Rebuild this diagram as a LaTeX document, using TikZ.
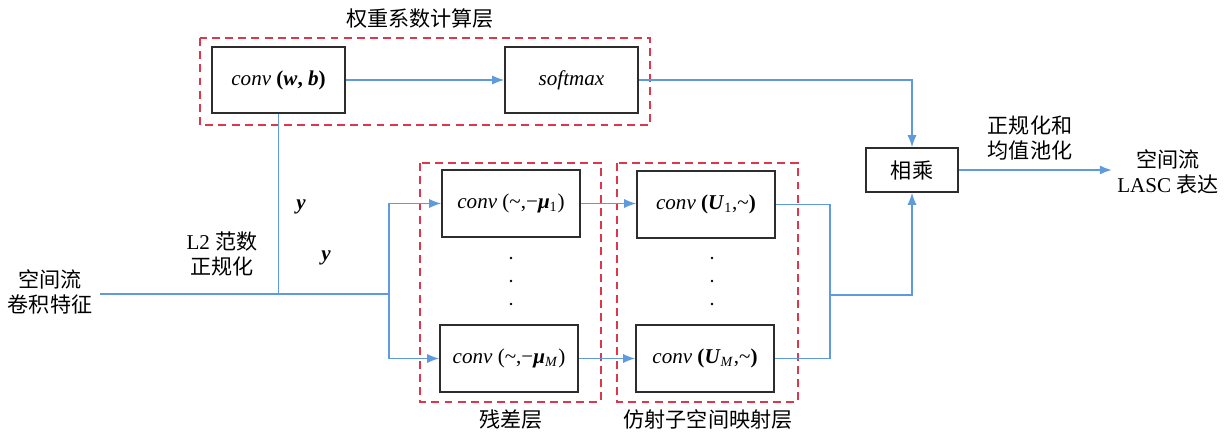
\documentclass[tikz,border=0pt]{standalone}
\usepackage{fontspec}
\setmainfont{Liberation Serif}
\newfontfamily\cjk{Noto Sans CJK SC}
\usetikzlibrary{arrows.meta}

\definecolor{flowblue}{RGB}{95,155,220}
\definecolor{layerred}{RGB}{220,55,75}
\definecolor{boxgray}{RGB}{45,45,45}

\newcommand{\bfit}[1]{\textbf{\textit{#1}}}
\newcommand{\conv}{\textit{conv}}

\tikzset{
  opbox/.style={draw=boxgray, line width=1pt, fill=white, minimum width=2.76cm, minimum height=1.34cm, inner sep=2pt},
  flow/.style={draw=flowblue, line width=0.7pt},
  flowarr/.style={flow, -{Latex[length=6.8pt,width=5.2pt]}},
  layer/.style={draw=layerred, line width=0.8pt, dash pattern=on 4.5pt off 3pt},
  lbl/.style={align=center, inner sep=1pt},
}

\begin{document}
\begin{tikzpicture}[x=0.02cm, y=-0.02cm, font=\fontsize{12}{14}\selectfont]
	\useasboundingbox (0,0) rectangle (1228,432);

	% layers
	\draw[layer] (200,38) rectangle (650,125);
	\draw[layer] (420,163) rectangle (601,402);
	\draw[layer] (617,163) rectangle (798,402);
	\node[lbl] (wlayer) at (420,19) {\cjk 权重系数计算层};
	\node[lbl] (rlayer) at (511,420) {\cjk 残差层};
	\node[lbl] (alayer) at (708,420) {\cjk 仿射子空间映射层};

	% operations
	\node[opbox, minimum width=2.66cm, minimum height=1.32cm] (convwb) at (278.5,80) {\conv{} \textbf{(\textit{w}, \textit{b})}};
	\node[opbox, minimum width=2.66cm, minimum height=1.32cm] (softmax) at (571.5,80) {\textit{softmax}};
	\node[opbox] (mu1) at (511,203.5) {\conv{} (\textasciitilde,−\bfit{μ}\textsubscript{1})};
	\node[opbox] (muM) at (509,358.5) {\conv{} (\textasciitilde,−\bfit{μ}\textsubscript{\textit{M}})};
	\node[opbox] (U1) at (706,204.5) {\conv{} \textbf{(}\bfit{U}\textsubscript{1},\textasciitilde\textbf{)}};
	\node[opbox] (UM) at (705,358.5) {\conv{} \textbf{(}\bfit{U}\textsubscript{\textit{M}},\textasciitilde\textbf{)}};
	\node[opbox, minimum width=1.84cm, minimum height=0.88cm] (mult) at (912,170) {\cjk 相乘};

	\foreach \d in {258,281,304} {
		\fill (511,\d) circle (1.3);
		\fill (712,\d) circle (1.3);
	}

	% inputs, outputs and labels
	\node[lbl, inner sep=4pt] (feat) at (50,292) {{\cjk 空间流}\\{\cjk 卷积特征}};
	\node[lbl, inner sep=3pt] (lasc) at (1168,172) {{\cjk 空间流}\\LASC {\cjk 表达}};
	\node[lbl] (l2) at (222,254) {L2 {\cjk 范数}\\{\cjk 正规化}};
	\node[lbl] (pool) at (1030,138) {{\cjk 正规化和}\\{\cjk 均值池化}};
	\node (y1) at (301,207) {\bfit{y}};
	\node (y2) at (326,258) {\bfit{y}};

	\coordinate (split) at (389,294);
	\coordinate (merge) at (830,295);

	% connectors
	\draw[flowarr] (convwb) -- (softmax);
	\draw[flowarr] (softmax.east) -| (mult.north);
	\draw[flow] (feat.east |- split) -- (split);
	\draw[flow] (convwb.south) -- (convwb.south |- split);
	\draw[flowarr] (split) |- (mu1.west);
	\draw[flowarr] (split) |- (muM.west);
	\draw[flowarr] (mu1) -- (U1.west |- mu1);
	\draw[flowarr] (muM) -- (UM);
	\draw[flow] (U1.east) -| (merge);
	\draw[flow] (UM.east) -| (merge);
	\draw[flowarr] (merge) -| (mult.south);
	\draw[flowarr] (mult) -- (lasc.west |- mult);
\end{tikzpicture}
\end{document}
